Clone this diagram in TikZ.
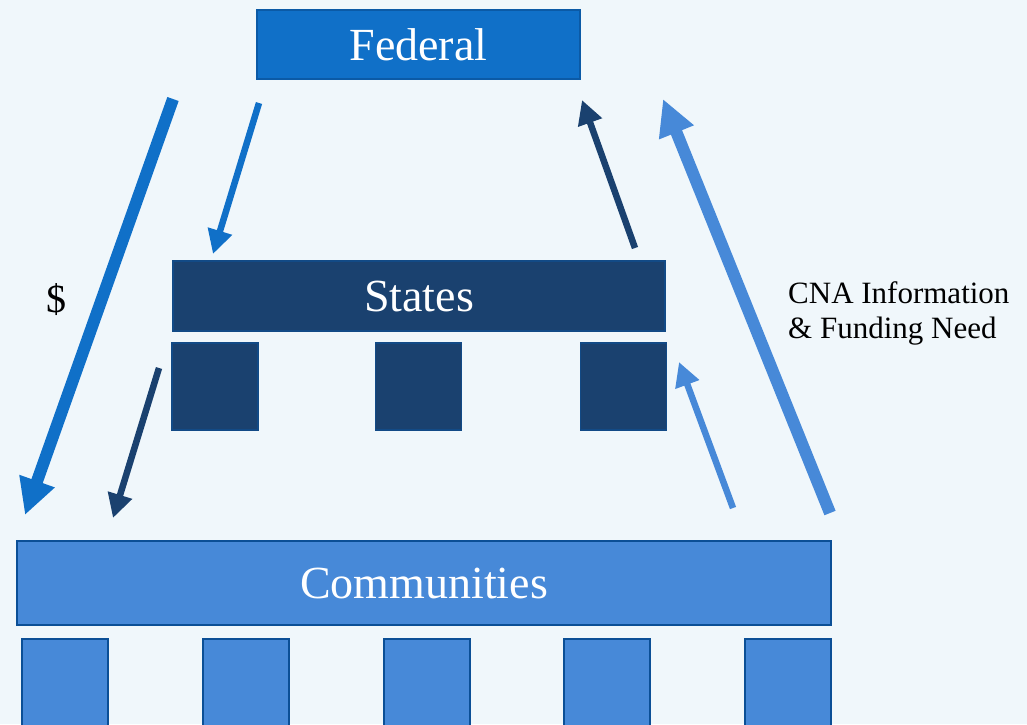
\documentclass[tikz,border=0pt]{standalone}
\usepackage{fontspec}
\setmainfont{Liberation Serif}
\usetikzlibrary{arrows.meta}
\definecolor{bg}{HTML}{F0F7FB}
\definecolor{fedblue}{HTML}{1070C8}
\definecolor{fedline}{HTML}{0B5AA6}
\definecolor{navy}{HTML}{1A416F}
\definecolor{navyline}{HTML}{124A86}
\definecolor{lightblue}{HTML}{4789D8}
\definecolor{lightline}{HTML}{0B4F96}
\tikzset{
  box/.style={draw, line width=1.8pt, inner sep=0pt, text=white, font=\fontsize{46}{50}\selectfont},
  fedbox/.style={box, fill=fedblue, draw=fedline},
  statebox/.style={box, fill=navy, draw=navyline},
  commbox/.style={box, fill=lightblue, draw=lightline},
  bigarrow/.style={line width=12pt, -{Triangle[length=36pt,width=35pt]}},
  medarrow/.style={line width=6.5pt, -{Triangle[length=24pt,width=24pt]}},
  label/.style={text=black, inner sep=0pt, font=\fontsize{31}{35}\selectfont}
}
\begin{document}
\begin{tikzpicture}[x=1pt,y=-1pt]
\fill[bg] (0,0) rectangle (1027,724);
\useasboundingbox (0,0) rectangle (1027,724);
% boxes
\node[fedbox, minimum width=323pt, minimum height=69pt] (federal) at (418.5,44.5) {Federal};
\node[statebox, minimum width=492pt, minimum height=70pt] (states) at (419,296) {States};
\node[statebox, minimum width=86pt, minimum height=87pt] (s1) at (215,386.5) {};
\node[statebox, minimum width=86pt, minimum height=87pt] (s2) at (418.5,386.5) {};
\node[statebox, minimum width=86pt, minimum height=87pt] (s3) at (623.5,386.5) {};
\node[commbox, minimum width=814pt, minimum height=84pt] (comm) at (424,583) {Communities};
\foreach \i/\x in {1/65,2/246,3/427,4/607,5/788}{
  \node[commbox, minimum width=86pt, minimum height=95pt] (c\i) at (\x,686.5) {};
}
% arrow end points
\coordinate (a1s) at (173,99);
\coordinate (a1e) at (25,515);
\coordinate (a2s) at (259,103);
\coordinate (a2e) at (213,254);
\coordinate (a3s) at (159,368);
\coordinate (a3e) at (113,518);
\coordinate (a4s) at (635,248);
\coordinate (a4e) at (582,100);
\coordinate (a5s) at (733,508);
\coordinate (a5e) at (679,362);
\coordinate (a6s) at (830,513);
\coordinate (a6e) at (663,99);
\draw[bigarrow, fedblue] (a1s) -- (a1e);
\draw[medarrow, fedblue] (a2s) -- (a2e);
\draw[medarrow, navy] (a3s) -- (a3e);
\draw[medarrow, navy] (a4s) -- (a4e);
\draw[medarrow, lightblue] (a5s) -- (a5e);
\draw[bigarrow, lightblue] (a6s) -- (a6e);
% labels
\node[label, font=\fontsize{40}{44}\selectfont] (dollar) at (56,300) {\$};
\node[label, anchor=west, align=left] (cna) at (788,313) {CNA Information\\\& Funding Need};
\end{tikzpicture}
\end{document}
